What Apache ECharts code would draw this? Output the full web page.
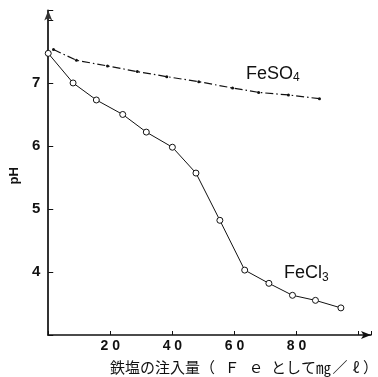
<!DOCTYPE html>
<html><head><meta charset="utf-8">
<script src="https://cdn.jsdelivr.net/npm/echarts@6/dist/echarts.min.js"></script>
<style>html,body{margin:0;padding:0;background:#fff}#c{width:378px;height:377px}</style>
</head><body><div id="c"></div>
<script>
const fecl3X = [0, 8, 15.5, 24, 31.6, 40, 47.6, 55.3, 63.3, 71.1, 78.7, 86.1, 94.3];
const fecl3Y = [7.47, 7.0, 6.73, 6.50, 6.22, 5.98, 5.57, 4.82, 4.03, 3.82, 3.63, 3.55, 3.43];
const feso4X = [1.7, 9.1, 19.1, 28.7, 38.2, 48.5, 59.4, 67.8, 77.4, 87.4];
const feso4Y = [7.53, 7.36, 7.27, 7.18, 7.10, 7.02, 6.92, 6.85, 6.81, 6.75];
const xTicks = [20, 40, 60, 80];
const yTicks = [4, 5, 6, 7];
const yTitle = 'pH';
// x-axis title pieces: 鉄塩の注入量（Ｆｅとして㎎／ℓ）
const xTitleParts = [['a', '鉄塩の注入量'], ['p', '（'], ['f', 'Ｆ'], ['f', 'ｅ'], ['g', 'として'], ['a', '㎎'], ['s', '／'], ['l', 'ℓ'], ['a', '）']];

const chart = echarts.init(document.getElementById('c'));
const pair = (xs, ys) => xs.map((x, i) => [x, ys[i]]);
const jp = 'Noto Sans CJK JP';
const rs = extra => Object.assign({fontSize: 15, fontFamily: jp, color: '#111', lineHeight: 18}, extra);
chart.setOption({
  animation: false,
  title: {
    left: 110, top: 358, padding: 0,
    text: xTitleParts.map(p => '{' + p[0] + '|' + p[1] + '}').join(''),
    textStyle: {
      fontSize: 15, fontFamily: jp, color: '#111', fontWeight: 'normal',
      rich: {
        a: rs({}),
        p: rs({width: 20, align: 'left'}),
        f: rs({width: 24, align: 'center'}),
        g: rs({padding: [0, 0, 0, 3]}),
        s: rs({width: 18, align: 'center'}),
        l: rs({width: 14, align: 'center'})
      }
    }
  },
  grid: {left: 43, right: 7, top: 10.5, bottom: 42},
  xAxis: {
    type: 'value', min: 0, max: 104, interval: 20,
    axisLine: {lineStyle: {color: '#111', width: 1.5}, symbol: ['none', 'arrow'], symbolSize: [6, 10]},
    axisTick: {inside: true, length: 4, lineStyle: {color: '#111'}},
    splitLine: {show: false},
    axisLabel: {color: '#111', fontSize: 14, fontWeight: 'bold', fontFamily: 'Liberation Sans', margin: 4,
      formatter: v => xTicks.includes(v) ? String(v).split('').join(' ') : ''}
  },
  yAxis: {
    type: 'value', min: 3, max: 8.15, interval: 1,
    name: yTitle, nameLocation: 'middle', nameGap: 26, nameRotate: 90,
    nameTextStyle: {color: '#111', fontSize: 13, fontWeight: 'bold', fontFamily: 'Liberation Sans', padding: [0, 0, 0, -6]},
    axisLine: {lineStyle: {color: '#333', width: 2}, symbol: ['none', 'arrow'], symbolSize: [6, 10]},
    axisTick: {inside: true, length: 5, lineStyle: {color: '#111'}},
    splitLine: {show: false},
    axisLabel: {color: '#111', fontSize: 15, fontWeight: 'bold', fontFamily: 'Liberation Sans', margin: 8,
      formatter: v => yTicks.includes(v) ? String(v) : ''}
  },
  series: [
    {
      name: 'FeCl3', type: 'line', data: pair(fecl3X, fecl3Y),
      symbol: 'circle', symbolSize: 6,
      itemStyle: {color: '#fff', borderColor: '#111', borderWidth: 1},
      lineStyle: {color: '#111', width: 1},
      markPoint: {symbol: 'circle', symbolSize: 0, data: [{coord: [83.2, 3.98]}],
        label: {show: true, position: 'inside', formatter: 'FeCl{s|3}', color: '#111', fontSize: 18, fontFamily: 'Liberation Sans',
          rich: {s: {fontSize: 12, color: '#111', padding: [8, 0, 0, 0], fontFamily: 'Liberation Sans'}}}}
    },
    {
      name: 'FeSO4', type: 'line', data: pair(feso4X, feso4Y),
      symbol: 'circle', symbolSize: 3,
      itemStyle: {color: '#111'},
      lineStyle: {color: '#111', width: 1.2, type: [8, 3, 1.5, 3]},
      markPoint: {symbol: 'circle', symbolSize: 0, data: [{coord: [72.4, 7.14]}],
        label: {show: true, position: 'inside', formatter: 'FeSO{s|4}', color: '#111', fontSize: 18, fontFamily: 'Liberation Sans',
          rich: {s: {fontSize: 12, color: '#111', padding: [8, 0, 0, 0], fontFamily: 'Liberation Sans'}}}}
    }
  ]
});
</script></body></html>
